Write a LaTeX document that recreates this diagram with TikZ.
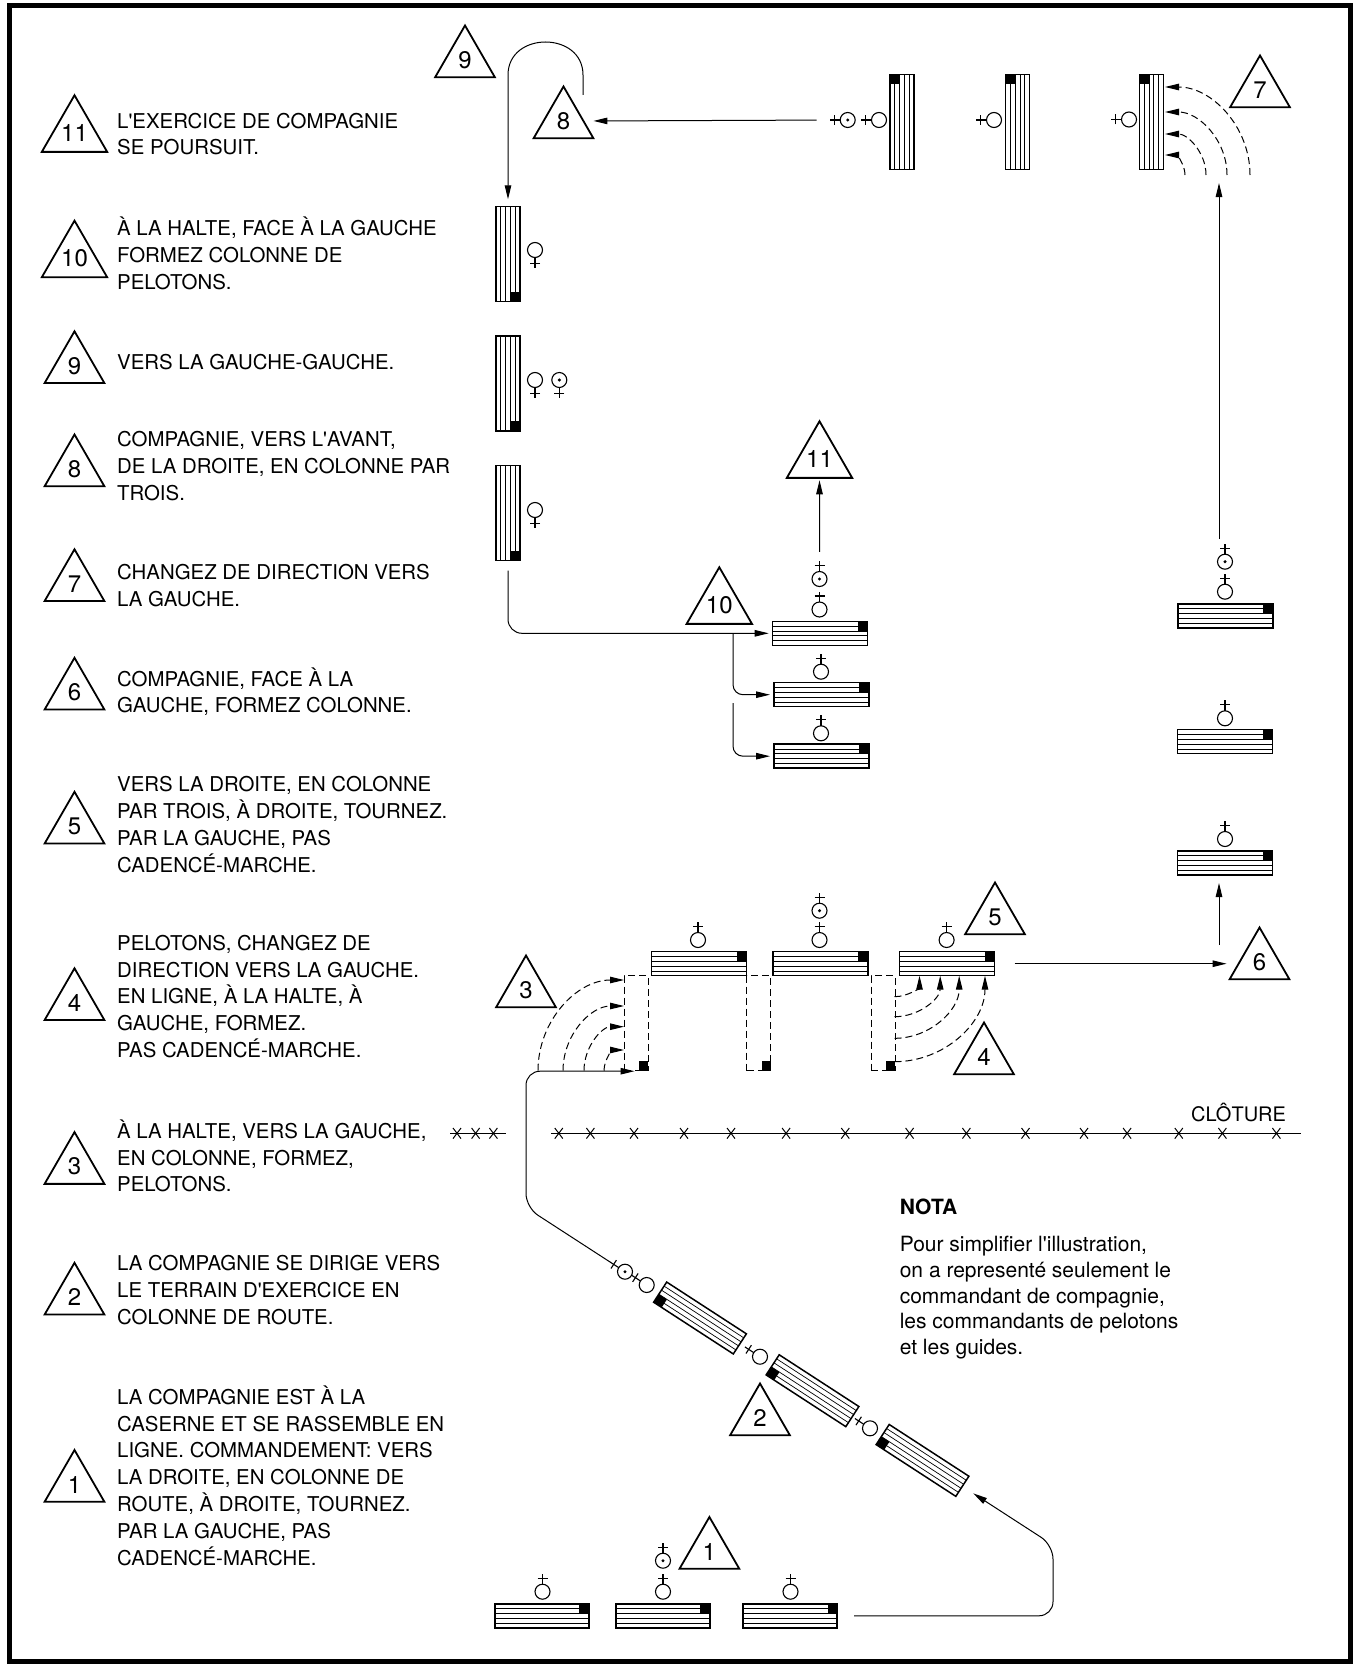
\documentclass[tikz,border=0pt]{standalone}
\usepackage{fontspec}
\setmainfont{TeX Gyre Heros}[Ligatures=TeXOff]
\usetikzlibrary{shapes.geometric,arrows.meta}

\tikzset{
    tri/.style={regular polygon, regular polygon sides=3, draw, line width=1.8pt,
        minimum size=69pt, inner sep=0pt, font=\fontsize{24}{24}\selectfont},
    legende/.style={anchor=west, align=left, inner sep=0pt,
        font=\fontsize{20.4}{26.8}\selectfont},
    pelbox/.style={draw, line width=1.5pt, minimum height=24pt, inner sep=0pt, outer sep=0pt},
    pelline/.style={line width=0.7pt},
    chefrond/.style={circle, draw, line width=1.1pt, minimum size=15pt, inner sep=0pt},
    route/.style={line width=1pt},
    fleche/.style={-{Triangle[length=14pt,width=6.5pt]}},
    tiret/.style={line width=1pt, dash pattern=on 7pt off 4pt},
    fantome/.style={draw, line width=1pt, dash pattern=on 7pt off 4pt,
        minimum width=24pt, minimum height=95pt, inner sep=0pt},
    carre/.style={fill, minimum size=9.6pt, inner sep=0pt}
}

% peloton : nom, position, angle, longueur
\newcommand{\peloton}[4]{%
    \begin{scope}[shift={#2}, rotate=#3]
        \node[pelbox, transform shape, minimum width=#4pt] (#1) at (0,0) {};
        \foreach \k in {-7.2,-2.4,2.4,7.2}
            \draw[pelline] (-#4/2,\k) -- (#4/2,\k);
        \fill (#4/2-9.6,-12) rectangle (#4/2,-2.4);
    \end{scope}}

% chef : nom, position, angle
\newcommand{\chef}[3]{%
    \begin{scope}[shift={#2}, rotate=#3]
        \node[chefrond] (#1) at (0,0) {};
        \draw[line width=1.1pt] (0,-7.5) -- (0,-18) (-5,-13.5) -- (5,-13.5);
    \end{scope}}
\newcommand{\commandant}[3]{\chef{#1}{#2}{#3}\fill (#1) circle[radius=1.7];}

\begin{document}
\begin{tikzpicture}[x=1pt, y=-1pt]

    \useasboundingbox (0,0) rectangle (1359,1667);
    \draw[line width=5pt] (9,5.5) rectangle (1350.5,1661.5);

    % legende
    \node[tri] (t11) at (74.5,133) {11};
    \node[tri] (t10) at (74.5,258.4) {10};
    \node[tri] (t9) at (74.5,365.8) {9};
    \node[tri] (t8) at (74.5,469) {8};
    \node[tri] (t7) at (74.5,583.8) {7};
    \node[tri] (t6) at (74.5,692.3) {6};
    \node[tri] (t5) at (74.5,826.3) {5};
    \node[tri] (t4) at (74.5,1002.8) {4};
    \node[tri] (t3) at (74.5,1166.6) {3};
    \node[tri] (t2) at (74.5,1297.3) {2};
    \node[tri] (t1) at (74.5,1484.5) {1};

    \node[legende] (l11) at (117,134) {L'EXERCICE DE COMPAGNIE\\SE POURSUIT.};
    \node[legende] (l10) at (117,253.6) {À LA HALTE, FACE À LA GAUCHE\\FORMEZ COLONNE DE\\PELOTONS.};
    \node[legende] (l9) at (117,361.6) {VERS LA GAUCHE-GAUCHE.};
    \node[legende] (l8) at (117,466.3) {COMPAGNIE, VERS L'AVANT,\\DE LA DROITE, EN COLONNE PAR\\TROIS.};
    \node[legende] (l7) at (117,585.4) {CHANGEZ DE DIRECTION VERS\\LA GAUCHE.};
    \node[legende] (l6) at (117,691.7) {COMPAGNIE, FACE À LA\\GAUCHE, FORMEZ COLONNE.};
    \node[legende] (l5) at (117,824.7) {VERS LA DROITE, EN COLONNE\\PAR TROIS, À DROITE, TOURNEZ.\\PAR LA GAUCHE, PAS\\CADENCÉ-MARCHE.};
    \node[legende] (l4) at (117,996.4) {PELOTONS, CHANGEZ DE\\DIRECTION VERS LA GAUCHE.\\EN LIGNE, À LA HALTE, À\\GAUCHE, FORMEZ.\\PAS CADENCÉ-MARCHE.};
    \node[legende] (l3) at (117,1155.9) {À LA HALTE, VERS LA GAUCHE,\\EN COLONNE, FORMEZ,\\PELOTONS.};
    \node[legende] (l2) at (117,1289.9) {LA COMPAGNIE SE DIRIGE VERS\\LE TERRAIN D'EXERCICE EN\\COLONNE DE ROUTE.};
    \node[legende] (l1) at (117,1475.5) {LA COMPAGNIE EST À LA\\CASERNE ET SE RASSEMBLE EN\\LIGNE. COMMANDEMENT: VERS\\LA DROITE, EN COLONNE DE\\ROUTE, À DROITE, TOURNEZ.\\PAR LA GAUCHE, PAS\\CADENCÉ-MARCHE.};

    % phases sur le terrain
    \node[tri] (n9) at (465,60) {9};
    \node[tri] (n8) at (563.5,121) {8};
    \node[tri] (n7) at (1260,90) {7};
    \node[tri] (n11) at (819.5,459) {11};
    \node[tri] (n10) at (719.3,605) {10};
    \node[tri] (n5) at (995,917) {5};
    \node[tri] (n6) at (1259.5,962) {6};
    \node[tri] (n3) at (526,990) {3};
    \node[tri] (n4) at (984,1057) {4};
    \node[tri] (n2) at (760,1418) {2};
    \node[tri] (n1) at (709.4,1551.5) {1};

    % 1
    \peloton{a1}{(542,1615.8)}{0}{94}
    \peloton{a2}{(663,1615.8)}{0}{94}
    \peloton{a3}{(790.2,1615.8)}{0}{94}
    \chef{ca1}{(542.5,1591.7)}{0}
    \chef{ca2}{(663,1591.7)}{0}
    \commandant{cmda}{(663,1560.7)}{0}
    \chef{ca3}{(790.5,1591.7)}{0}

    % 2
    \peloton{d1}{(700,1318)}{147}{95}
    \peloton{d2}{(812.5,1390.7)}{147}{95}
    \peloton{d3}{(922.5,1460.4)}{147}{95}
    \commandant{cmdd}{(625,1271.7)}{57}
    \chef{cd1}{(646.7,1285)}{57}
    \chef{cd2}{(760,1356.7)}{57}
    \chef{cd3}{(870,1428.3)}{57}
    \coordinate (r0) at (609.9,1261.9);

    \draw[route, fleche, rounded corners=14pt, shorten <=17pt, shorten >=13pt]
        (a3.east) -- (1053,1615.8) -- (1053,1545) -- (d3.west);

    % 3, 4, 5
    \node[fantome] (f1) at (636,1023.2) {};
    \node[fantome] (f2) at (758.8,1023.2) {};
    \node[fantome] (f3) at (883,1023.2) {};
    \node[carre, anchor=south east] (g1) at (f1.south east) {};
    \node[carre, anchor=south east] (g2) at (f2.south east) {};
    \node[carre, anchor=south east] (g3) at (f3.south east) {};

    \draw[route, fleche, rounded corners=14pt, shorten >=4pt]
        (r0) -- (526,1207.5) |- (g1.south west);

    \foreach \rx/\ry in {20/20.7, 40/44, 61/64.7, 86/90.7}
        \draw[tiret, fleche] (624-\rx,1070.7) .. controls (624-\rx,1070.7-0.55*\ry)
            and (624-0.55*\rx,1070.7-\ry) .. (624,1070.7-\ry);
    \foreach \rx/\ry in {25/21, 45.7/41, 64.7/62.6, 90.5/86}
        \draw[tiret, fleche] (894.5,975.7+\ry) .. controls (894.5+0.55*\rx,975.7+\ry)
            and (894.5+\rx,975.7+0.55*\ry) .. (894.5+\rx,975.7);

    \peloton{s1}{(699.2,963.7)}{0}{95}
    \peloton{s2}{(820.4,963.7)}{0}{95}
    \peloton{s3}{(947.1,963.7)}{0}{95}
    \chef{cs1}{(698,940)}{0}
    \chef{cs2}{(819.5,940)}{0}
    \commandant{cmds}{(819.5,910.7)}{0}
    \chef{cs3}{(946.6,940)}{0}

    \draw[route, fleche, shorten <=20pt, shorten >=12pt] (s3.east) -- (s3.east -| n6.west);

    % 6, 7
    \peloton{r1}{(1225.5,615.8)}{0}{95}
    \peloton{r2}{(1225,741.7)}{0}{95}
    \peloton{r3}{(1225,863)}{0}{95}
    \commandant{cmdr}{(1225,561.7)}{0}
    \chef{cr1}{(1225,591.7)}{0}
    \chef{cr2}{(1225,718.3)}{0}
    \chef{cr3}{(1225,839)}{0}

    \coordinate (c6) at (1219,945);
    \draw[route, fleche, shorten >=8pt] (c6) -- (c6 |- r3.south);
    \coordinate (c7a) at (1219,539);
    \coordinate (c7b) at (1219,183);
    \draw[route, fleche] (c7a) -- (c7b);

    \peloton{h1}{(901.8,122)}{90}{95}
    \peloton{h2}{(1017.6,122)}{90}{95}
    \peloton{h3}{(1151.3,122)}{90}{95}
    \commandant{cmdh}{(847.7,120)}{90}
    \chef{ch1}{(879,120)}{90}
    \chef{ch2}{(994,120)}{90}
    \chef{ch3}{(1129,119.5)}{90}

    \foreach \rx/\ry in {20/20, 41/41, 62/63, 85/88}
        \draw[tiret, fleche] (1165+\rx,175) .. controls (1165+\rx,175-0.55*\ry)
            and (1165+0.55*\rx,175-\ry) .. (1165,175-\ry);

    % 8, 9
    \draw[route, fleche, shorten <=23pt, shorten >=9pt] (cmdh.west) -- (n8.east);

    \peloton{v1}{(508,253.8)}{-90}{95}
    \peloton{v2}{(508,383.3)}{-90}{95}
    \peloton{v3}{(508,513)}{-90}{95}
    \chef{cv1}{(535,250)}{180}
    \chef{cv2}{(535,380)}{180}
    \commandant{cmdv}{(559.3,380)}{180}
    \chef{cv3}{(535,510)}{180}

    \coordinate (c8) at (583,95);
    \draw[route, fleche, shorten >=7pt] (c8) -- (583,75)
        .. controls (583,31) and (508,31) .. (508,75) -- (v1.west);

    % 10, 11
    \peloton{q1}{(820.2,633.3)}{0}{95}
    \peloton{q2}{(821.5,694.7)}{0}{95}
    \peloton{q3}{(821.5,756.2)}{0}{95}
    \commandant{cmdq}{(819.5,579)}{0}
    \chef{cq1}{(819.5,609.5)}{0}
    \chef{cq2}{(821,671.7)}{0}
    \chef{cq3}{(821,733.3)}{0}

    \draw[route, fleche, rounded corners=14pt, shorten <=10pt, shorten >=4pt]
        (v3.east) |- (q1.west);
    \coordinate (b1) at (733,633.3);
    \coordinate (b2) at (733,703);
    \draw[route, fleche, rounded corners=10pt, shorten >=4pt] (b1) |- (q2.west);
    \draw[route, fleche, rounded corners=10pt, shorten >=4pt] (b2) |- (q3.west);
    \draw[route, fleche, shorten <=19pt, shorten >=1.5pt] (cmdq.north) -- (n11.south);

    % cloture
    \draw[line width=1.2pt] (450,1133.3) -- (506,1133.3);
    \draw[line width=1.2pt] (551,1133.3) -- (1301,1133.3);
    \foreach \xx in {457,475.6,493.4,558.8,590.4,634,684,731,786.1,845.3,909.6,
            966.4,1025.5,1084,1127.1,1178.8,1222.4,1276.4}
        \draw[line width=1pt] (\xx-4,1128) -- (\xx+4,1138.6) (\xx+4,1128) -- (\xx-4,1138.6);
    \node[anchor=base west, inner sep=0pt, font=\fontsize{20}{24}\selectfont]
        (cloture) at (1191,1121.5) {CLÔTURE};

    % nota
    \node[anchor=west, inner sep=0pt, font=\fontsize{21}{25.8}\selectfont\bfseries]
        (nota) at (899.6,1207) {NOTA};
    \node[anchor=north west, align=left, inner sep=0pt, font=\fontsize{21}{25.8}\selectfont]
        (notatexte) at (899.6,1236) {Pour simplifier l'illustration,\\on a representé seulement le\\commandant de compagnie,\\les commandants de pelotons\\et les guides.};

\end{tikzpicture}
\end{document}
